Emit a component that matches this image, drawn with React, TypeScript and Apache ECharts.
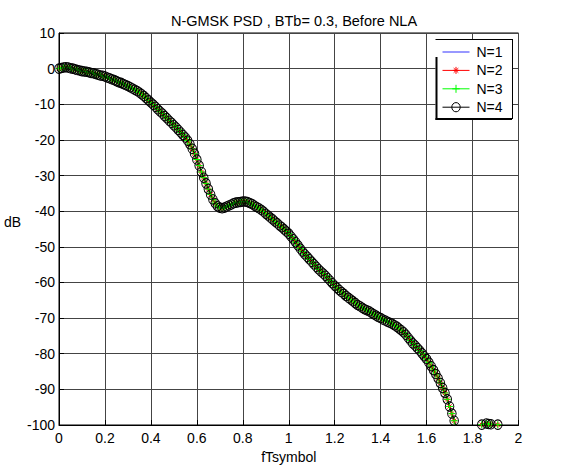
import React, { useEffect, useRef } from "react";
import * as echarts from "echarts";

const titleText = "N-GMSK PSD , BTb= 0.3, Before NLA";
const xName = "fTsymbol";
const yName = "dB";
const seriesNames = ["N=1", "N=2", "N=3", "N=4"];

const freq = [
  0, 0.01, 0.02, 0.03, 0.04, 0.05, 0.06, 0.07, 0.08, 0.09,
  0.1, 0.11, 0.12, 0.13, 0.14, 0.15, 0.16, 0.17, 0.18, 0.19,
  0.2, 0.21, 0.22, 0.23, 0.24, 0.25, 0.26, 0.27, 0.28, 0.29,
  0.3, 0.31, 0.32, 0.33, 0.34, 0.35, 0.36, 0.37, 0.38, 0.39,
  0.4, 0.41, 0.42, 0.43, 0.44, 0.45, 0.46, 0.47, 0.48, 0.49,
  0.5, 0.51, 0.52, 0.53, 0.54, 0.55, 0.56, 0.57, 0.58, 0.59,
  0.6, 0.61, 0.62, 0.63, 0.64, 0.65, 0.66, 0.67, 0.68, 0.69,
  0.7, 0.71, 0.72, 0.73, 0.74, 0.75, 0.76, 0.77, 0.78, 0.79,
  0.8, 0.81, 0.82, 0.83, 0.84, 0.85, 0.86, 0.87, 0.88, 0.89,
  0.9, 0.91, 0.92, 0.93, 0.94, 0.95, 0.96, 0.97, 0.98, 0.99,
  1.0, 1.01, 1.02, 1.03, 1.04, 1.05, 1.06, 1.07, 1.08, 1.09,
  1.1, 1.11, 1.12, 1.13, 1.14, 1.15, 1.16, 1.17, 1.18, 1.19,
  1.2, 1.21, 1.22, 1.23, 1.24, 1.25, 1.26, 1.27, 1.28, 1.29,
  1.3, 1.31, 1.32, 1.33, 1.34, 1.35, 1.36, 1.37, 1.38, 1.39,
  1.4, 1.41, 1.42, 1.43, 1.44, 1.45, 1.46, 1.47, 1.48, 1.49,
  1.5, 1.51, 1.52, 1.53, 1.54, 1.55, 1.56, 1.57, 1.58, 1.59,
  1.6, 1.61, 1.62, 1.63, 1.64, 1.65, 1.66, 1.67, 1.68, 1.69,
  1.7, 1.71, 1.72, 1.73, 1.74, 1.76, 1.78, 1.8, 1.82, 1.84,
  1.86, 1.87, 1.88, 1.91, 1.93,
];

const psd = [
  0.0, 0.2, 0.3, 0.4, 0.3, 0.1, 0.0, -0.2, -0.4, -0.5,
  -0.7, -0.8, -0.9, -1.0, -1.2, -1.3, -1.5, -1.7, -1.9, -2.0,
  -2.2, -2.5, -2.7, -3.0, -3.2, -3.5, -3.8, -4.0, -4.3, -4.6,
  -4.9, -5.2, -5.6, -5.9, -6.3, -6.7, -7.2, -7.7, -8.3, -8.9,
  -9.5, -10.1, -10.7, -11.4, -12.0, -12.6, -13.3, -13.9, -14.6, -15.2,
  -15.9, -16.5, -17.2, -17.9, -18.6, -19.3, -20.2, -21.2, -22.5, -23.9,
  -25.5, -27.2, -29.0, -30.6, -32.2, -33.8, -35.3, -36.7, -37.8, -38.6,
  -39.0, -39.2, -39.0, -38.7, -38.4, -38.1, -37.8, -37.6, -37.5, -37.4,
  -37.3, -37.3, -37.4, -37.7, -38.0, -38.4, -38.8, -39.2, -39.6, -40.1,
  -40.7, -41.2, -41.8, -42.3, -42.9, -43.4, -44.0, -44.5, -45.1, -45.7,
  -46.3, -47.1, -47.9, -48.7, -49.6, -50.5, -51.3, -52.1, -52.8, -53.5,
  -54.2, -54.9, -55.6, -56.3, -56.9, -57.5, -58.1, -58.8, -59.5, -60.2,
  -60.9, -61.5, -62.1, -62.7, -63.2, -63.8, -64.3, -64.8, -65.3, -65.8,
  -66.3, -66.7, -67.1, -67.5, -67.8, -68.1, -68.5, -68.9, -69.3, -69.7,
  -70.0, -70.4, -70.7, -71.0, -71.3, -71.6, -72.0, -72.4, -72.9, -73.4,
  -74.0, -74.7, -75.5, -76.3, -77.1, -77.7, -78.4, -79.1, -79.9, -80.7,
  -81.5, -82.5, -83.5, -84.6, -85.7, -86.9, -88.2, -89.6, -91.0, -92.8,
  -94.8, -96.8, -98.8, -101, -104, -110, -114, -112, -106, -99.9,
  -99.6, -99.7, -99.8, -99.9, -110,
];

const xTicks = { min: 0, max: 2, interval: 0.2 };
const yTicks = { min: -100, max: 10, interval: 10 };

const FONT = "Liberation Sans, Arial, sans-serif";
const BLUE = "#3030ff";

export default function App() {
  const ref = useRef<HTMLDivElement>(null);
  useEffect(() => {
    if (!ref.current) return;
    const chart = echarts.init(ref.current, undefined, { renderer: "svg" });
    const pts = freq.map((f, i) => [f, psd[i]]);
    const star = "path://M5 0L5 10M0 5L10 5M1.5 1.5L8.5 8.5M8.5 1.5L1.5 8.5";
    const plus = "path://M5 0L5 10M0 5L10 5";
    const textStyle = { color: "#000", fontSize: 14, fontFamily: FONT };
    const ink = { stroke: "#000", lineWidth: 1 };
    chart.setOption({
      animation: false,
      backgroundColor: "#fff",
      title: {
        text: titleText,
        left: 289,
        top: 8,
        textAlign: "center",
        textStyle: { ...textStyle, fontSize: 14.5, fontWeight: "normal" },
      },
      grid: {
        left: 59,
        top: 33,
        width: 459.5,
        height: 395,
        show: true,
        borderColor: "#000",
        borderWidth: 1,
        backgroundColor: "transparent",
      },
      graphic: [
        { type: "rect", z: 3, shape: { x: 435.5, y: 39, width: 77.5, height: 80 }, style: { fill: "#fff" } },
        { type: "line", z: 3, shape: { x1: 435.5, y1: 39.5, x2: 513, y2: 39.5 }, style: ink },
        { type: "line", z: 3, shape: { x1: 512.5, y1: 39, x2: 512.5, y2: 119 }, style: ink },
        { type: "line", z: 3, shape: { x1: 436.5, y1: 57, x2: 436.5, y2: 120 }, style: { stroke: "#000", lineWidth: 2 } },
        { type: "line", z: 3, shape: { x1: 435.5, y1: 119, x2: 512, y2: 119 }, style: { stroke: "#000", lineWidth: 2 } },
      ],
      legend: {
        orient: "vertical",
        left: 435.5,
        top: 39,
        padding: [5, 8, 3, 6.5],
        itemWidth: 27,
        itemHeight: 10,
        itemGap: 2.4,
        z: 4,
        textStyle: { ...textStyle, lineHeight: 16, padding: [0, 0, 0, 2] },
        data: [
          {
            name: seriesNames[0],
            icon: "path://M0 4.5L27 4.5L27 5.5L0 5.5Z",
            itemStyle: { color: BLUE, borderWidth: 0 },
          },
          {
            name: seriesNames[1],
            icon: "path://M0 5L27 5M13.5 1.5L13.5 8.5M10.3 5L16.7 5M11.2 2.7L15.8 7.3M15.8 2.7L11.2 7.3",
            itemStyle: { color: "transparent", borderColor: "#ff0000", borderWidth: 1 },
          },
          {
            name: seriesNames[2],
            icon: "path://M0 5L27 5M13.5 1L13.5 9M9.8 5L17.2 5",
            itemStyle: { color: "transparent", borderColor: "#00ff00", borderWidth: 1 },
          },
          {
            name: seriesNames[3],
            icon: "path://M0 5L27 5M9.3 5A4.2 4.6 0 1 1 17.7 5A4.2 4.6 0 1 1 9.3 5",
            itemStyle: { color: "transparent", borderColor: "#000", borderWidth: 1 },
          },
        ],
      },
      xAxis: {
        type: "value",
        ...xTicks,
        name: xName,
        nameLocation: "middle",
        nameGap: 25,
        nameTextStyle: textStyle,
        axisLine: { onZero: false, lineStyle: { color: "#000" } },
        axisTick: { inside: true, length: 5, lineStyle: { color: "#000" } },
        axisLabel: {
          ...textStyle,
          margin: 6,
          formatter: (v: number) => String(+v.toFixed(1)),
        },
        splitLine: { show: true, lineStyle: { color: "#444", width: 1 } },
      },
      yAxis: {
        type: "value",
        ...yTicks,
        name: yName,
        nameLocation: "middle",
        nameRotate: 0,
        nameGap: 42.5,
        nameTextStyle: { ...textStyle, align: "center", verticalAlign: "bottom" },
        axisLine: { onZero: false, lineStyle: { color: "#000" } },
        axisTick: { inside: true, length: 5, lineStyle: { color: "#000" } },
        axisLabel: { ...textStyle, margin: 4 },
        splitLine: { show: true, lineStyle: { color: "#444", width: 1 } },
      },
      series: [
        {
          name: seriesNames[0],
          type: "line",
          data: pts,
          symbol: "none",
          lineStyle: { color: BLUE, width: 1 },
          itemStyle: { color: BLUE },
          clip: true,
        },
        {
          name: seriesNames[1],
          type: "line",
          data: pts,
          symbol: star,
          symbolSize: 6,
          lineStyle: { color: "#ff0000", width: 1 },
          itemStyle: { color: "#ff0000", borderColor: "#ff0000", borderWidth: 1 },
          clip: true,
        },
        {
          name: seriesNames[2],
          type: "line",
          data: pts,
          symbol: plus,
          symbolSize: 7,
          lineStyle: { color: "#00ff00", width: 1 },
          itemStyle: { color: "#00ff00", borderColor: "#00ff00", borderWidth: 1 },
          clip: true,
        },
        {
          name: seriesNames[3],
          type: "line",
          data: pts,
          symbol: "circle",
          symbolSize: [8.6, 9.4],
          lineStyle: { color: "#000", width: 1 },
          itemStyle: { color: "transparent", borderColor: "#000", borderWidth: 1 },
          clip: true,
        },
      ],
    });
    return () => chart.dispose();
  }, []);
  return (
    <div
      ref={ref}
      style={{ position: "fixed", left: 0, top: 0, width: 568, height: 469 }}
    />
  );
}
